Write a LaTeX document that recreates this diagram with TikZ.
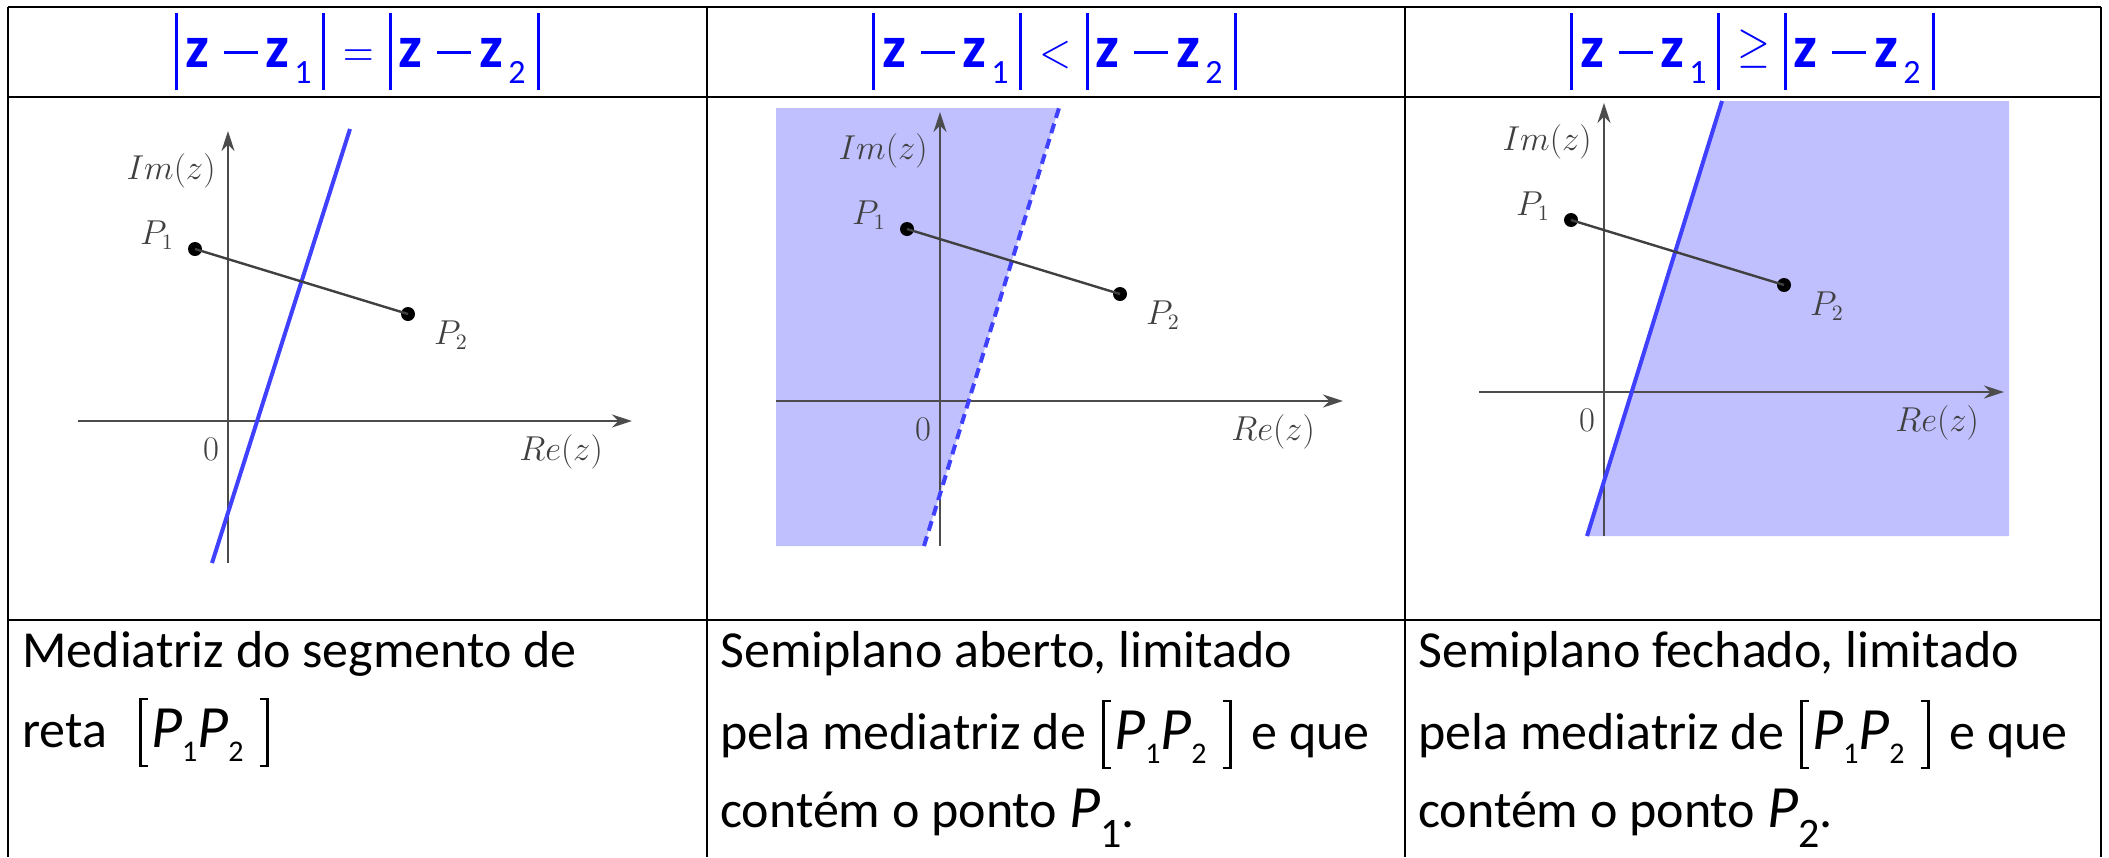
\documentclass[tikz,border=0pt]{standalone}
\usepackage{fontspec}
\setmainfont{Carlito}
\usepackage{exscale}
\usepackage{graphicx}
\usepackage{xcolor}
\usetikzlibrary{arrows.meta}

\definecolor{headblue}{RGB}{0,0,255}
\definecolor{lineblue}{RGB}{64,64,255}
\definecolor{shadeblue}{RGB}{192,192,255}

% pieces of the header formulas
\newcommand{\absbar}{\makebox[0pt]{\rule[-11.5pt]{1.5pt}{38.5pt}}}
\newcommand{\minusbar}{\makebox[0pt]{\raisebox{6.75pt}{\rule{17pt}{1.5pt}}}}
\newcommand{\zz}{\makebox[0pt]{\bfseries z}}
\newcommand{\subdig}[1]{\makebox[0pt]{\raisebox{-8pt}{\fontsize{17}{17}\selectfont #1}}}
\newcommand{\relsym}[2][0pt]{\makebox[0pt]{\raisebox{#1}{\scalebox{0.85}[1]{$#2$}}}}
\newcommand{\modform}[1]{\absbar\hspace{10.25pt}\zz\hspace{21.75pt}\minusbar\hspace{18.25pt}\zz\hspace{13pt}\subdig{1}\hspace{10.25pt}\absbar\hspace{17.5pt}#1\hspace{16pt}\absbar\hspace{10pt}\zz\hspace{21.75pt}\minusbar\hspace{18.5pt}\zz\hspace{13pt}\subdig{2}\hspace{10.75pt}\absbar}

% P with a lowered index, and the segment [P1P2]
\newcommand{\Pn}[3]{{\fontsize{30}{30}\selectfont\itshape P}\raisebox{#3}{\fontsize{#2}{#2}\selectfont #1}}
\newcommand{\brL}{\rule[-10pt]{1.2pt}{34.5pt}\kern-1.2pt\rule[-10pt]{4.5pt}{1.1pt}\kern-4.5pt\rule[23.4pt]{4.5pt}{1.1pt}}
\newcommand{\brR}{\rule[-10pt]{4.5pt}{1.1pt}\kern-4.5pt\rule[23.4pt]{4.5pt}{1.1pt}\kern-1.2pt\rule[-10pt]{1.2pt}{34.5pt}}
\newcommand{\segPP}{\brL\hspace{1.5pt}\Pn{1}{15}{-7pt}\Pn{2}{15}{-7pt}\hspace{8pt}\brR}

\tikzset{
  headtext/.style={inner sep=0pt, text=headblue, font=\fontsize{30}{30}\selectfont, anchor=base},
  bodyline/.style={inner sep=0pt, anchor=base west, font=\fontsize{26}{30}\selectfont},
  graphlbl/.style={inner sep=0pt, text=black!75, font=\fontsize{16}{16}\selectfont},
  dot/.style={circle, fill=black, inner sep=0pt, minimum size=7pt},
  axisline/.style={draw=black!70, line width=1pt, -{Stealth[length=10pt,width=6.5pt]}},
  segline/.style={draw=black!75, line width=1.2pt},
  bisector/.style={draw=lineblue, line width=2pt},
  tablerule/.style={line width=1.2pt}
}

\begin{document}
\begin{tikzpicture}[x=0.5pt, y=-0.5pt]
    \useasboundingbox (0,0) rectangle (2109,857);

    % Table
    \draw[tablerule] (8,7) -- (2101,7);
    \draw[tablerule] (8,97) -- (2101,97);
    \draw[tablerule] (8,620) -- (2101,620);
    \foreach \xc in {8,707,1405,2101}
        \draw[tablerule] (\xc,7) -- (\xc,857);

    % Headers
    \node[headtext] (headeq) at (357.5,67) {\modform{\relsym{=}}};
    \node[headtext] (headlt) at (1054.5,67) {\modform{\relsym{<}}};
    \node[headtext] (headge) at (1752.5,67) {\modform{\relsym[3pt]{\geq}}};

    % Panel 1: the bisector
    \begin{scope}[shift={(228,421)}]
        \draw[axisline] (-150,0) -- (404,0);
        \draw[axisline] (0,142) -- (0,-290);
        \coordinate (ma1) at (-16,142);
        \coordinate (mb1) at (122,-292);
        \draw[bisector] (ma1) -- (mb1);
        \node[dot] (pa1) at (-33,-172) {};
        \node[dot] (pb1) at (180,-107) {};
        \draw[segline] (pa1.center) -- (pb1.center);
        \node[graphlbl] (pla1) at (-71,-186) {$P_1$};
        \node[graphlbl] (plb1) at (223,-86) {$P_2$};
        \node[graphlbl] (im1) at (-57,-250) {$Im(z)$};
        \node[graphlbl] (re1) at (333,31) {$Re(z)$};
        \node[graphlbl] (zero1) at (-17,28) {$0$};
    \end{scope}

    % Panel 2: open half-plane
    \begin{scope}[shift={(940,401)}]
        \fill[shadeblue] (-164,-293) -- (119,-293) -- (-16,145) -- (-164,145) -- cycle;
        \draw[axisline] (-164,0) -- (403,0);
        \draw[axisline] (0,145) -- (0,-289);
        \coordinate (ma2) at (-16,145);
        \coordinate (mb2) at (119,-293);
        \draw[bisector, dash pattern=on 5pt off 3pt] (ma2) -- (mb2);
        \node[dot] (pa2) at (-33,-172) {};
        \node[dot] (pb2) at (180,-107) {};
        \draw[segline] (pa2.center) -- (pb2.center);
        \node[graphlbl] (pla2) at (-71,-186) {$P_1$};
        \node[graphlbl] (plb2) at (223,-86) {$P_2$};
        \node[graphlbl] (im2) at (-57,-250) {$Im(z)$};
        \node[graphlbl] (re2) at (333,31) {$Re(z)$};
        \node[graphlbl] (zero2) at (-17,28) {$0$};
    \end{scope}

    % Panel 3: closed half-plane
    \begin{scope}[shift={(1604,392)}]
        \fill[shadeblue] (-17,144) -- (118,-291) -- (405,-291) -- (405,144) -- cycle;
        \draw[axisline] (-125,0) -- (400,0);
        \draw[axisline] (0,144) -- (0,-289);
        \coordinate (ma3) at (-17,144);
        \coordinate (mb3) at (118,-291);
        \draw[bisector] (ma3) -- (mb3);
        \node[dot] (pa3) at (-33,-172) {};
        \node[dot] (pb3) at (180,-107) {};
        \draw[segline] (pa3.center) -- (pb3.center);
        \node[graphlbl] (pla3) at (-71,-186) {$P_1$};
        \node[graphlbl] (plb3) at (223,-86) {$P_2$};
        \node[graphlbl] (im3) at (-57,-250) {$Im(z)$};
        \node[graphlbl] (re3) at (333,31) {$Re(z)$};
        \node[graphlbl] (zero3) at (-17,28) {$0$};
    \end{scope}

    % Descriptions
    \node[bodyline] (desca1) at (22,667) {Mediatriz do segmento de};
    \node[bodyline] (desca2) at (22,747) {reta\hspace{16pt}\segPP};

    \node[bodyline] (descb1) at (720,667) {Semiplano aberto, limitado};
    \node[bodyline] (descb2) at (720,749) {pela mediatriz de\hspace{8pt}\segPP\hspace{10pt}e que};
    \node[bodyline] (descb3) at (720,827) {contém o ponto \Pn{1}{21}{-10pt}.};

    \node[bodyline] (descc1) at (1418,667) {Semiplano fechado, limitado};
    \node[bodyline] (descc2) at (1418,749) {pela mediatriz de\hspace{8pt}\segPP\hspace{10pt}e que};
    \node[bodyline] (descc3) at (1418,827) {contém o ponto \Pn{2}{21}{-10pt}.};
\end{tikzpicture}
\end{document}
